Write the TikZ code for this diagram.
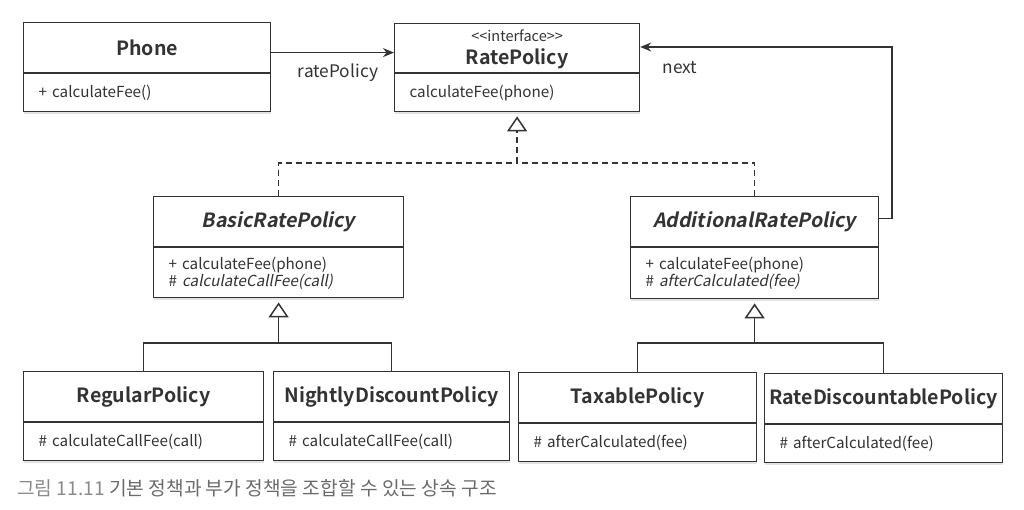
\documentclass[tikz,border=0pt]{standalone}
\usepackage{fontspec}
\setmainfont{Noto Sans CJK KR}[
  BoldFont={* Bold},
  ItalicFont={*}, ItalicFeatures={FakeSlant=0.2},
  BoldItalicFont={* Bold}, BoldItalicFeatures={FakeSlant=0.2}]
\usetikzlibrary{arrows.meta,shadows}
\definecolor{ink}{HTML}{333333}
\definecolor{capgray}{HTML}{8A8A8A}
\definecolor{captext}{HTML}{6A6A6A}
\tikzset{
  boxpart/.style={draw=ink, line width=1.2pt, fill=white, inner sep=0pt,
    drop shadow={opacity=0.22, shadow xshift=0.6pt, shadow yshift=-2.6pt}},
  titlebox/.style={boxpart, anchor=north west, font=\fontsize{19.6}{22}\selectfont\bfseries, text=ink},
  bodybox/.style={boxpart, anchor=north, font=\fontsize{15.2}{17}\selectfont, text=ink,
    align=left, inner xsep=15pt},
  assoc/.style={draw=ink, line width=1.5pt, -{Stealth[length=11pt,width=9pt]}},
  realize/.style={draw=ink, line width=1.5pt, dash pattern=on 6pt off 4pt},
  inherit/.style={draw=ink, line width=1.5pt},
  hollow/.style={-{Triangle[open,length=15pt,width=20pt,line width=1.5pt]}},
  lbl/.style={font=\fontsize{17.3}{19}\selectfont, text=ink, inner sep=0pt},
}
\begin{document}
\begin{tikzpicture}[x=1pt,y=-1pt]
\useasboundingbox (0,0) rectangle (1024,510);

% ---- class boxes: title part + member part ----
\node[titlebox, minimum width=247pt, minimum height=50pt] (Phone) at (23,22) {Phone};
\node[bodybox, minimum width=247pt, minimum height=38pt, text width=217pt] (Phone-m) at (Phone.south) {+ calculateFee()};

\node[titlebox, minimum width=245pt, minimum height=49pt, align=center] (Rate) at (394,23)
  {{\fontsize{14.5}{15}\selectfont\mdseries\rule{0pt}{15pt}<{}<interface>{}>}\\[1pt]RatePolicy};
\node[bodybox, minimum width=245pt, minimum height=38pt, text width=215pt] (Rate-m) at (Rate.south) {calculateFee(phone)};

\node[titlebox, minimum width=250pt, minimum height=50pt] (Basic) at (153,196) {\itshape BasicRatePolicy};
\node[bodybox, minimum width=250pt, minimum height=50pt, text width=220pt] (Basic-m) at (Basic.south)
  {+ calculateFee(phone)\\\# \textit{calculateCallFee(call)}};

\node[titlebox, minimum width=248pt, minimum height=50pt] (Add) at (630,196) {\itshape AdditionalRatePolicy};
\node[bodybox, minimum width=248pt, minimum height=51pt, text width=218pt] (Add-m) at (Add.south)
  {+ calculateFee(phone)\\\# \textit{afterCalculated(fee)}};

\node[titlebox, minimum width=240pt, minimum height=50pt] (Regular) at (23,371) {RegularPolicy};
\node[bodybox, minimum width=240pt, minimum height=38pt, text width=210pt] (Regular-m) at (Regular.south) {\# calculateCallFee(call)};

\node[titlebox, minimum width=236pt, minimum height=50pt] (Nightly) at (273,371) {NightlyDiscountPolicy};
\node[bodybox, minimum width=236pt, minimum height=38pt, text width=206pt] (Nightly-m) at (Nightly.south) {\# calculateCallFee(call)};

\node[titlebox, minimum width=238pt, minimum height=50pt] (Taxable) at (518,372) {TaxablePolicy};
\node[bodybox, minimum width=238pt, minimum height=38pt, text width=208pt] (Taxable-m) at (Taxable.south) {\# afterCalculated(fee)};

\node[titlebox, minimum width=238pt, minimum height=50pt] (RateDisc) at (764,373) {RateDiscountablePolicy};
\node[bodybox, minimum width=238pt, minimum height=38pt, text width=208pt] (RateDisc-m) at (RateDisc.south) {\# afterCalculated(fee)};

% ---- associations ----
\draw[assoc] ([yshift=-5pt]Phone.east) -- ([yshift=-5pt]Phone.east -| Rate.west);
\node[lbl] (ratePolicyLbl) at (338,73) {ratePolicy};

\coordinate (nextCorner) at (892,47);
\draw[assoc] ([yshift=3pt]Add.east) -| (nextCorner) -- (nextCorner -| Rate.east);
\node[lbl] (nextLbl) at (680,68) {next};

% ---- realization of the interface ----
\coordinate (rj) at (Rate-m.south |- 0,163);
\draw[realize] (Basic.north) |- (rj);
\draw[realize] (Add.north) |- (rj);
\draw[realize, hollow] (rj) -- ([yshift=-4pt]Rate-m.south);

% ---- generalization: basic policies ----
\coordinate (bj) at (Basic-m.south |- 0,343);
\draw[inherit] (Regular.north) |- (bj);
\draw[inherit] (Nightly.north) |- (bj);
\draw[inherit, hollow] (bj) -- ([yshift=-4pt]Basic-m.south);

% ---- generalization: additional policies ----
\coordinate (aj) at (Add-m.south |- 0,343);
\draw[inherit] (Taxable.north) |- (aj);
\draw[inherit] (RateDisc.north) |- (aj);
\draw[inherit, hollow] (aj) -- ([yshift=-4pt]Add-m.south);

% ---- caption ----
\node[anchor=west, inner sep=0pt, font=\fontsize{19.2}{21}\selectfont] (caption) at (17,488)
  {\textcolor{capgray}{그림 11.11}\ \textcolor{captext}{기본 정책과 부가 정책을 조합할 수 있는 상속 구조}};
\end{tikzpicture}
\end{document}
